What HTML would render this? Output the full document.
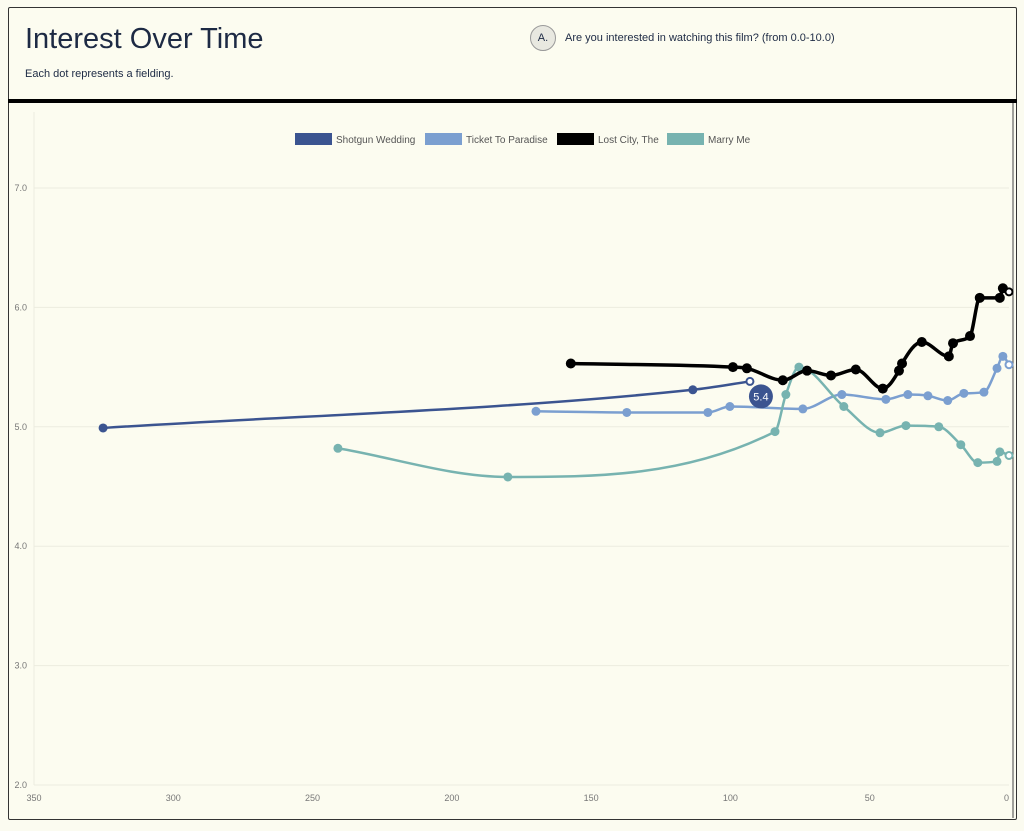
<!DOCTYPE html>
<html><head><meta charset="utf-8"><style>
body{margin:0;background:#fbfbf0;font-family:"Liberation Sans",sans-serif;}
#card{position:absolute;left:8px;top:7px;width:1007px;height:811px;border:1px solid #333;border-radius:2px;background:#fcfcf0;}
</style></head><body>
<div id="card"></div>
<div style="position:absolute;left:25px;top:23px;font-size:29px;color:#1d2a44;">Interest Over Time</div>
<div style="position:absolute;left:25px;top:68px;font-size:11px;color:#1d2a44;">Each dot represents a fielding.</div>
<div style="position:absolute;left:530px;top:25px;width:24px;height:24px;border:1.5px solid #999;border-radius:50%;background:#e8e8e0;font-size:11px;text-align:center;line-height:24px;color:#1d2a44;">A.</div>
<div style="position:absolute;left:565px;top:32px;font-size:11px;color:#1d2a44;">Are you interested in watching this film? (from 0.0-10.0)</div>
<div style="position:absolute;left:8px;top:99px;width:1009px;height:4px;background:#000;"></div>
<svg id="chart" width="1024" height="831" style="position:absolute;left:0;top:0" font-family="Liberation Sans, sans-serif"></svg>
<script>
const categoriesLabel=["Shotgun Wedding","Ticket To Paradise","Lost City, The","Marry Me"];
const colors=["#3b5490","#7b9fd0","#000000","#77b3b0"];
const xTicks=[350,300,250,200,150,100,50,0];
const yTicks=[2,3,4,5,6,7];
const shotgunX=[325.2,113.5,93];
const shotgunY=[4.99,5.31,5.38];
const ticketX=[169.8,137.2,108.1,100.2,74,60,44.2,36.3,29.1,22,16.2,9,4.3,2.2,0];
const ticketY=[5.13,5.12,5.12,5.17,5.15,5.27,5.23,5.27,5.26,5.22,5.28,5.29,5.49,5.59,5.52];
const lostX=[157.3,99.1,94.1,81.2,72.5,63.9,55,45.3,39.5,38.4,31.3,21.6,20.1,14,10.5,3.3,2.2,0];
const lostY=[5.53,5.50,5.49,5.39,5.47,5.43,5.48,5.32,5.47,5.53,5.71,5.59,5.70,5.76,6.08,6.08,6.16,6.13];
const marryX=[240.9,179.9,84,80.1,75.4,59.3,46.3,37,25.2,17.3,11.2,4.3,3.3,0];
const marryY=[4.82,4.58,4.96,5.27,5.50,5.17,4.95,5.01,5.00,4.85,4.70,4.71,4.79,4.76];
const tooltipValue=5.4;

const svg=document.getElementById('chart');
const NS='http://www.w3.org/2000/svg';
const X=v=>34+(350-v)*975/350;
const Y=v=>785-(v-2)*119.4;
function mk(t,a,p){const e=document.createElementNS(NS,t);for(const k in a)e.setAttribute(k,a[k]);(p||svg).appendChild(e);return e;}
// grid
mk('line',{x1:34,x2:34,y1:112,y2:785,stroke:'#ececdf'});
mk('line',{x1:1013,x2:1013,y1:103,y2:818,stroke:'#444'});
yTicks.forEach(v=>{
  const g=mk('line',{x1:34,x2:1009,y1:Y(v),y2:Y(v),stroke:'#ececdf'});
  
  
  const t=mk('text',{x:27,y:Y(v)+3,'font-size':9,fill:'#777','text-anchor':'end'});
  t.textContent=v.toFixed(1);
  
  
});
xTicks.forEach(v=>{
  const t=mk('text',{x:X(v),y:801,'font-size':9,fill:'#777','text-anchor':v===0?'end':'middle'});
  t.textContent=v;
  
  
});
// legend
const lx=[295,425,557,667];
categoriesLabel.forEach((n,i)=>{
  const r=mk('rect',{x:lx[i],y:133,width:37,height:12,fill:colors[i]});
  
  
  const t=mk('text',{x:lx[i]+41,y:143,'font-size':10,fill:'#555'});
  t.textContent=n;
  
  
});
function monotone(pts){
  const n=pts.length;if(n<2)return '';
  const dx=[],m=[],t=[];
  for(let i=0;i<n-1;i++){dx[i]=pts[i+1][0]-pts[i][0];m[i]=(pts[i+1][1]-pts[i][1])/dx[i];}
  t[0]=m[0];t[n-1]=m[n-2];
  for(let i=1;i<n-1;i++){t[i]=(m[i-1]*m[i]<=0)?0:(m[i-1]+m[i])/2;}
  for(let i=0;i<n-1;i++){
    if(m[i]===0){t[i]=0;t[i+1]=0;continue;}
    const a=t[i]/m[i],b=t[i+1]/m[i],s=a*a+b*b;
    if(s>9){const k=3/Math.sqrt(s);t[i]=k*a*m[i];t[i+1]=k*b*m[i];}
  }
  let d='M'+pts[0][0]+','+pts[0][1];
  for(let i=0;i<n-1;i++){const h=dx[i]/3;
    d+=' C'+(pts[i][0]+h)+','+(pts[i][1]+t[i]*h)+' '+(pts[i+1][0]-h)+','+(pts[i+1][1]-t[i+1]*h)+' '+pts[i+1][0]+','+pts[i+1][1];}
  return d;
}
const series=[[shotgunX,shotgunY],[ticketX,ticketY],[lostX,lostY],[marryX,marryY]];
const names=['shotgun-wedding','ticket-to-paradise','lost-city','marry-me'];
[1,3,0,2].forEach(i=>{
  const [xs,ys]=series[i];
  const pts=xs.map((x,j)=>[X(x),Y(ys[j])]).sort((a,b)=>a[0]-b[0]);
  const p=mk('path',{d:monotone(pts),fill:'none',stroke:colors[i],'stroke-width':i===2?3.5:2.5});
  
  
  pts.forEach((q,j)=>{
    const last=j===pts.length-1;
    const c=mk('circle',{cx:q[0],cy:q[1],r:last?3.5:(i===2?5:4.5),fill:last?'#fff':colors[i],stroke:colors[i],'stroke-width':last?2:0});
    
    
  });
});
// value bubble
const bx=X(shotgunX[2])+11,by=Y(shotgunY[2])+15;
const bc=mk('circle',{cx:bx,cy:by,r:12,fill:colors[0]});


const bt=mk('text',{x:bx,y:by+4,'font-size':11,fill:'#fff','text-anchor':'middle'});
bt.textContent=tooltipValue.toFixed(1);


</script>
</body></html>
